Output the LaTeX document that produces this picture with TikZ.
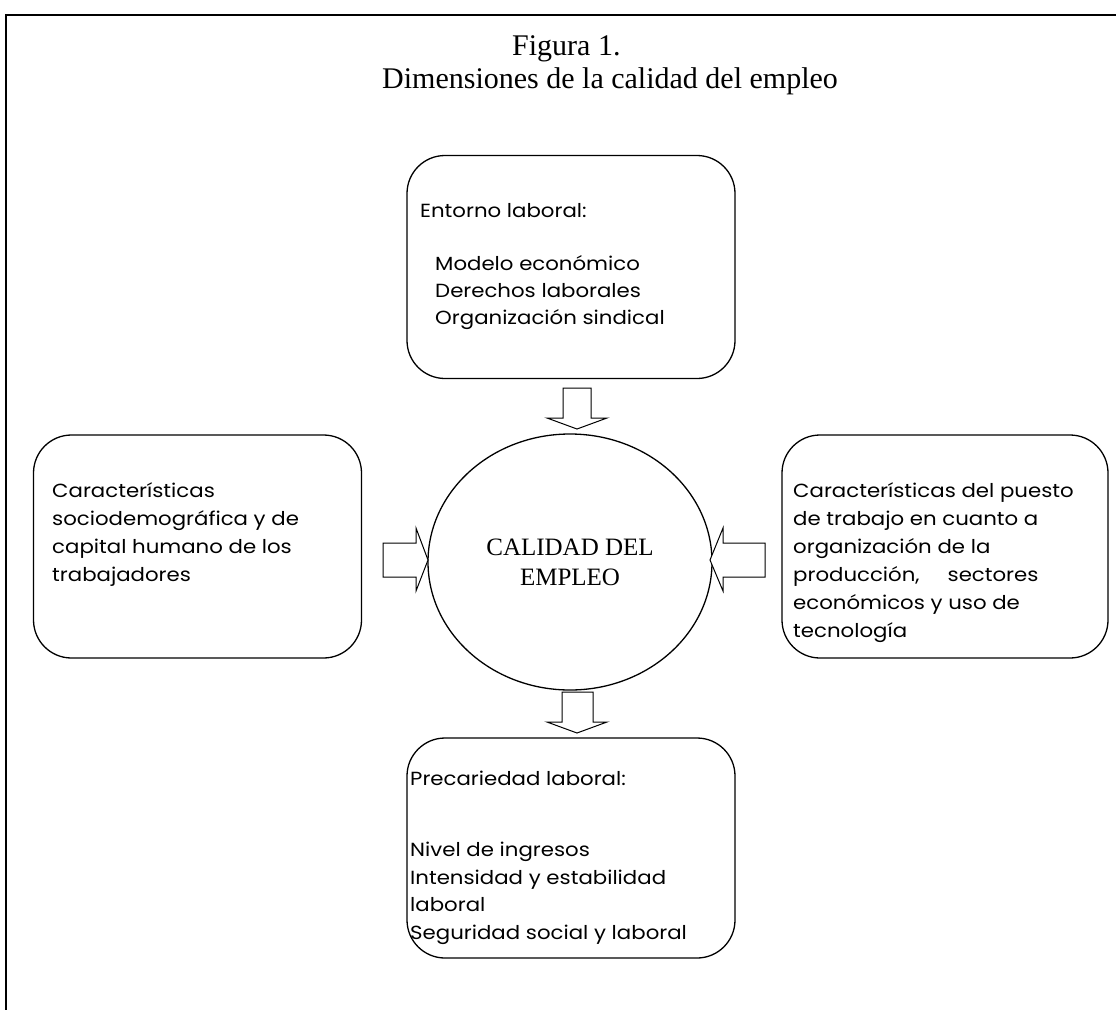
\documentclass[tikz,border=0pt]{standalone}
\usepackage{fontspec}
\setmainfont{Liberation Serif}
\newfontfamily\gothic[FakeStretch=1.12]{Poppins}
\usetikzlibrary{shapes.geometric}
\newcommand\tline[1]{\hbox{#1}}
\tikzset{
  x=1pt,y=-1pt,
  boxstyle/.style={draw,line width=1.3pt,rounded corners=38pt,inner sep=0pt,minimum width=328pt,minimum height=223pt},
  boxtext/.style={anchor=base west,inner sep=0pt,font=\gothic\fontsize{19}{28}\selectfont},
  blockarrow/.style={draw,line width=1pt,fill=white,line join=miter},
  titlestyle/.style={anchor=base west,inner sep=0pt,font=\fontsize{30}{36}\selectfont},
}
\begin{document}
\begin{tikzpicture}
\useasboundingbox (0,0) rectangle (1116,1010);
% frame
\draw[line width=2.5pt] (5,15) -- (1116,15);
\draw[line width=2pt] (6,14) -- (6,1010);
% title
\node[titlestyle] (t1) at (512,55) {Figura 1.};
\node[titlestyle] (t2) at (382,88) {Dimensiones de la calidad del empleo};
% boxes
\node[boxstyle] (top) at (571,267) {};
\node[boxstyle] (left) at (197.5,546.5) {};
\node[boxstyle,minimum width=326pt] (right) at (945,546.5) {};
\node[boxstyle,minimum height=220pt] (bot) at (571,848) {};
% ellipse
\node[ellipse,draw,line width=1.3pt,inner sep=0pt,minimum width=284pt,minimum height=256pt,align=center,font=\fontsize{25}{30}\selectfont] (calidad) at (570,562) {CALIDAD DEL\\EMPLEO};
% texts
\node[boxtext] (toptext) at (420,217) {\vtop{\baselineskip=27pt
  \tline{Entorno laboral:}\vskip 26pt
  \tline{\hspace{15pt}Modelo económico}
  \tline{\hspace{15pt}Derechos laborales}
  \tline{\hspace{15pt}Organización sindical}}};
\node[boxtext] (lefttext) at (52,497) {\vtop{\baselineskip=28pt
  \tline{Características}
  \tline{sociodemográfica y de}
  \tline{capital humano de los}
  \tline{trabajadores}}};
\node[boxtext] (righttext) at (793,497) {\vtop{\baselineskip=28pt
  \tline{Características del puesto}
  \tline{de trabajo en cuanto a}
  \tline{organización de la}
  \tline{producción,\hspace{28pt}sectores}
  \tline{económicos y uso de}
  \tline{tecnología}}};
\node[boxtext] (bottext) at (410,785) {\vtop{\baselineskip=27.5pt
  \tline{Precariedad laboral:}\vskip 44pt
  \tline{Nivel de ingresos}
  \tline{Intensidad y estabilidad}
  \tline{laboral}
  \tline{Seguridad social y laboral}}};
% block arrows
\draw[blockarrow] (563,388) -- (591,388) -- (591,418) -- (607,418) -- (577,429) -- (547,418) -- (563,418) -- cycle;
\draw[blockarrow] (562,692) -- (593,692) -- (593,722) -- (607,722) -- (577,733) -- (547,722) -- (562,722) -- cycle;
\draw[blockarrow] (383,543) -- (416,543) -- (416,528) -- (428,560) -- (416,591) -- (416,577) -- (383,577) -- cycle;
\draw[blockarrow] (765,543) -- (723,543) -- (723,528) -- (710,560) -- (723,591) -- (723,577) -- (765,577) -- cycle;
\end{tikzpicture}
\end{document}
